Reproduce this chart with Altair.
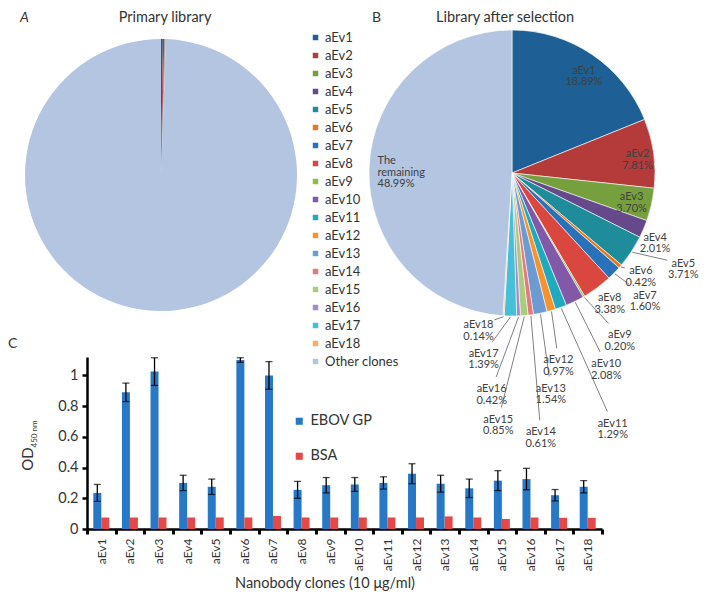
import altair as alt
import pandas as pd

# ---------------- data ----------------
clones = [f"aEv{i}" for i in range(1, 19)] + ["Other clones"]
clone_colors = ["#1E5F96", "#B53A3A", "#76A03E", "#65498A", "#1F8C9C", "#E57A26",
                "#2872BA", "#D9473F", "#8DBB4C", "#8259A8", "#1FAAC0", "#F8922E",
                "#6B9BD2", "#E57878", "#A9CC7E", "#A08CC6", "#46BFD8", "#F9AA6C",
                "#B3C5E1"]

# Panel A: primary library (%)
primary_pct = [0.22, 0.17, 0.02, 0.01, 0.02, 0.01, 0.01, 0.02, 0.01, 0.01,
               0.01, 0.01, 0.01, 0.01, 0.01, 0.01, 0.01, 0.02, 99.41]
# Panel B: library after selection (%)
selected_pct = [18.89, 7.81, 3.70, 2.01, 3.71, 0.42, 1.60, 3.38, 0.20, 2.08,
                1.29, 0.97, 1.54, 0.61, 0.85, 0.42, 1.39, 0.14, 48.99]

# Panel C: ELISA
bar_clones = [f"aEv{i}" for i in range(1, 19)]
ebov_od = [0.235, 0.89, 1.025, 0.30, 0.275, 1.10, 1.00, 0.255, 0.285, 0.29,
           0.30, 0.36, 0.295, 0.265, 0.315, 0.325, 0.22, 0.275]
ebov_err = [0.055, 0.06, 0.09, 0.05, 0.05, 0.015, 0.09, 0.055, 0.05, 0.045,
            0.04, 0.065, 0.055, 0.06, 0.065, 0.07, 0.037, 0.04]
bsa_od = [0.075, 0.075, 0.075, 0.075, 0.075, 0.075, 0.085, 0.075, 0.075, 0.075,
          0.075, 0.075, 0.082, 0.075, 0.065, 0.075, 0.073, 0.073]
series = ["EBOV GP", "BSA"]
series_colors = ["#2878C8", "#E64848"]
y_ticks = [0, 0.2, 0.4, 0.6, 0.8, 1]

# label layout hints for pie B (radius in px, angular nudge in degrees)
label_radius = [125, 127, 122, 157, 194, 162, 181, 159, 195, 213, 270, 193,
                219, 261, 247, 217, 183, 156, 135]
label_nudge = [1.1, -0.6, -1.3, 1.2, -5.4, -3.5, -1.7, -1.3, -3.4, -0.2, -1.9,
               2.0, 1.2, 1.2, 8.1, 8.0, 8.3, 9.0, 3.2]

FONT = "Lato"
TXT = "#333333"

# ---------------- geometry (pixels inside the top view) ----------------
TOP_W, TOP_H = 520, 322
CXA, CYA, RA = 74, 162, 136
CXB, CYB, RB = 425, 160, 143
HW, HH = 16, 12

color_scale = alt.Scale(domain=clones, range=clone_colors)


def note(text, x, y, **kw):
    params = dict(font=FONT, fontSize=14, color=TXT, align="center", baseline="middle")
    params.update(kw)
    return alt.Chart(pd.DataFrame({"t": [text]})).mark_text(**params).encode(
        x=alt.value(x), y=alt.value(y), text="t:N")


# ---------------- Panel A ----------------
dfA = pd.DataFrame({"idx": list(range(len(clones))), "clone": clones, "pct": primary_pct})
pieA_arc = alt.Chart(dfA).mark_arc(radius=RA).encode(
    x=alt.value(CXA), y=alt.value(CYA),
    theta=alt.Theta("pct:Q", stack=True),
    color=alt.Color("clone:N", scale=color_scale, sort=clones,
                    legend=alt.Legend(orient="none", legendX=222, legendY=18,
                                      title=None, symbolType="square", symbolSize=30,
                                      symbolStrokeWidth=0, labelFont=FONT,
                                      labelFontSize=13, labelColor=TXT,
                                      rowPadding=4, labelOffset=3, padding=0)),
    order=alt.Order("idx:Q", sort="ascending"),
)

# ---------------- Panel B ----------------
dfB = pd.DataFrame({
    "idx": list(range(len(clones))),
    "clone": clones,
    "pct": selected_pct,
    "lr": label_radius,
    "nudge": label_nudge,
})
dfB["label"] = [f"{c}\n{p:.2f}%" for c, p in zip(clones, selected_pct)]
dfB.loc[len(clones) - 1, "label"] = f"The\nremaining\n{selected_pct[-1]:.2f}%"

pieB_arc = alt.Chart(dfB).mark_arc(radius=RB, stroke="white", strokeWidth=0.6).encode(
    x=alt.value(CXB), y=alt.value(CYB),
    theta=alt.Theta("pct:Q", stack=True),
    color=alt.Color("clone:N", scale=color_scale, sort=clones),
    order=alt.Order("idx:Q", sort="ascending"),
)

baseB = alt.Chart(dfB).transform_window(
    cum="sum(pct)", sort=[alt.SortField("idx")]
).transform_joinaggregate(total="sum(pct)").transform_calculate(
    mid="2*PI*(datum.cum - datum.pct/2)/datum.total",
    ang="datum.mid + datum.nudge*PI/180",
    lx=f"{CXB} + datum.lr*sin(datum.ang)",
    ly=f"{CYB} - datum.lr*cos(datum.ang)",
    sx=f"{CXB} + {RB + 1}*sin(datum.mid)",
    sy=f"{CYB} - {RB + 1}*cos(datum.mid)",
)

labelsB = baseB.transform_filter("datum.idx < 18").mark_text(
    font=FONT, fontSize=11, color="#404040", lineBreak="\n", lineHeight=11.5,
    align="center", baseline="middle",
).encode(x=alt.X("lx:Q", scale=None), y=alt.Y("ly:Q", scale=None), text="label:N")

restB = baseB.transform_filter("datum.idx == 18").mark_text(
    font=FONT, fontSize=11, color="#404040", lineBreak="\n", lineHeight=11.5,
    align="left", baseline="middle",
).encode(x=alt.X("lx:Q", scale=None), y=alt.Y("ly:Q", scale=None), text="label:N")

leadersB = baseB.transform_filter("datum.idx >= 3 && datum.idx < 18").transform_calculate(
    dx="datum.sx - datum.lx",
    dy="datum.sy - datum.ly",
    t=f"min({HW}/max(abs(datum.dx), 0.001), {HH}/max(abs(datum.dy), 0.001))",
    ex="datum.lx + datum.dx*datum.t",
    ey="datum.ly + datum.dy*datum.t",
    seg="sqrt(datum.dx*datum.dx + datum.dy*datum.dy)*(1 - datum.t)",
).transform_filter("datum.seg > 3").mark_rule(color="#808080", strokeWidth=1).encode(
    x=alt.X("sx:Q", scale=None), y=alt.Y("sy:Q", scale=None),
    x2="ex:Q", y2="ey:Q",
)

pies = alt.layer(
    pieA_arc, pieB_arc, leadersB, labelsB, restB,
    note("Primary library", 78, 5, fontSize=14.5),
    note("A", -67, 5, fontStyle="italic", align="left"),
    note("Library after selection", 418, 5, fontSize=14.5),
    note("B", 285, 5, align="left"),
).resolve_scale(theta="independent").properties(width=TOP_W, height=TOP_H)

# ---------------- Panel C ----------------
dfBar = pd.DataFrame({
    "clone": bar_clones * 2,
    "series": [series[0]] * len(bar_clones) + [series[1]] * len(bar_clones),
    "od": ebov_od + bsa_od,
})
dfErr = pd.DataFrame({"clone": bar_clones, "od": ebov_od, "err": ebov_err})

x_axis = alt.Axis(labelAngle=-90, labelFont=FONT, labelFontSize=12,
                  labelColor=TXT, labelPadding=4, domain=True, domainColor="black",
                  domainWidth=2.5, ticks=True, tickColor="black", tickWidth=3,
                  tickSize=5, tickBand="extent")
y_axis = alt.Axis(values=y_ticks, format="~g", grid=False, labelFont=FONT,
                  labelFontSize=14.5, labelColor=TXT, labelPadding=4,
                  domain=True, domainColor="black", domainWidth=2.5, ticks=True,
                  tickColor="black", tickWidth=2.5, tickSize=5)
x_scale = alt.Scale(paddingInner=0, paddingOuter=0)
y_scale = alt.Scale(domain=[0, 1.12], nice=False, zero=True)

xenc = alt.X("clone:N", sort=bar_clones, title=None, scale=x_scale, axis=x_axis)

bars = alt.Chart(dfBar).mark_bar().encode(
    x=xenc,
    xOffset=alt.XOffset("series:N", sort=series,
                        scale=alt.Scale(paddingInner=0, paddingOuter=0.79)),
    y=alt.Y("od:Q", title=None, scale=y_scale, axis=y_axis),
    color=alt.Color("series:N", sort=series,
                    scale=alt.Scale(domain=series, range=series_colors),
                    legend=alt.Legend(orient="none", legendX=205, legendY=57,
                                      title=None, symbolType="square", symbolSize=50,
                                      symbolStrokeWidth=0, labelFont=FONT,
                                      labelFontSize=14.5, labelColor=TXT,
                                      rowPadding=20, labelOffset=4, padding=0)),
)

errBase = alt.Chart(dfErr).transform_calculate(
    lo="datum.od - datum.err", hi="datum.od + datum.err")
err_rule = errBase.mark_rule(color="black", strokeWidth=1.3, xOffset=-4).encode(
    x=xenc, y=alt.Y("lo:Q", title=None, scale=y_scale, axis=y_axis), y2="hi:Q")
cap_lo = errBase.mark_tick(color="black", thickness=1.3, size=7, xOffset=-4).encode(
    x=xenc, y=alt.Y("lo:Q", title=None, scale=y_scale, axis=y_axis))
cap_hi = errBase.mark_tick(color="black", thickness=1.3, size=7, xOffset=-4).encode(
    x=xenc, y=alt.Y("hi:Q", title=None, scale=y_scale, axis=y_axis))

barchart = alt.layer(
    bars, err_rule, cap_lo, cap_hi,
    note("OD", -59, 102, fontSize=15, angle=270),
    note("450 nm", -52, 77, fontSize=8, angle=270),
    note("C", -79, -13, align="left"),
    note("Nanobody clones (10 μg/ml)", 238, 227, fontSize=14.5),
).properties(width=515, height=172)

chart = alt.vconcat(pies, barchart, spacing=22, bounds="flush").resolve_scale(
    color="independent", theta="independent"
).properties(
    padding={"top": 2, "left": 0, "right": 0, "bottom": 0}
).configure(font=FONT).configure_view(stroke=None)

chart.save("out.html", embed_options={"renderer": "svg", "actions": False})
